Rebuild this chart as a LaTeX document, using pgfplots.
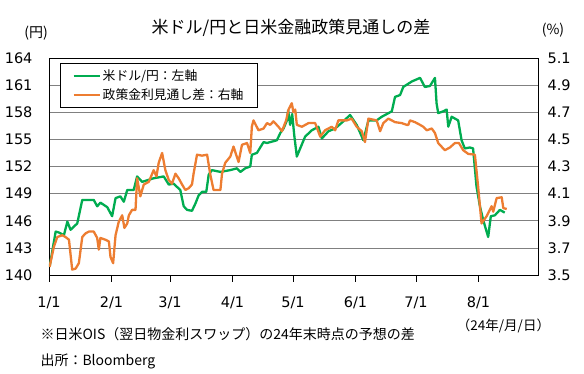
\documentclass[border=0pt]{standalone}
\usepackage{fontspec}
\usepackage{pgfplots}
\pgfplotsset{compat=1.18}
\setmainfont{DejaVu Sans}
\newfontfamily\jp{Noto Sans CJK JP}
\definecolor{ggreen}{RGB}{0,172,80}
\definecolor{gorange}{RGB}{237,125,49}
\begin{document}
\begin{tikzpicture}
\path (0pt,0pt) rectangle (584pt,374pt);
\begin{axis}[
  at={(49pt,99pt)}, anchor=south west,
  width=489pt, height=217pt, scale only axis,
  xmin=0, xmax=242.5, ymin=140, ymax=164,
  ytick={140,143,...,164},
  ymajorgrids, grid style={gray, line width=0.7pt},
  xtick={0,31,60,91,121,152,182,213},
  xticklabels={1/1,2/1,3/1,4/1,5/1,6/1,7/1,8/1},
  xtick pos=lower, ytick pos=left,
  tick align=outside,
  xtick style={black, line width=0.7pt},
  major tick length=7pt,
  ytick style={draw=none},
  axis line style={black, line width=0.8pt},
  /pgf/number format/assume math mode=true,
  tick label style={font=\fontsize{14.5}{16}\selectfont},
  yticklabel style={xshift=-6pt},
  xticklabel style={yshift=-11pt},
]
\addplot[ggreen, line width=2.3pt, line join=round] coordinates {
(0.3,140.9) (3.3,144.8) (4.9,144.7) (7.4,144.4) (9.1,145.9) (10.7,145.0) (14.0,145.7) (16.5,148.3)
(22.2,148.3) (23.9,147.6) (25.5,148.0) (28.9,147.5) (31.3,146.5) (33.0,148.5) (35.4,148.7) (37.1,148.1)
(38.8,149.4) (42.0,149.4) (43.7,150.9) (46.2,150.3) (51.9,150.7) (56.9,150.9) (59.4,150.0) (61.8,150.1)
(65.1,149.4) (66.8,147.6) (68.5,147.2) (70.9,147.1) (72.6,147.9) (74.2,148.8) (75.9,149.2) (78.0,149.2)
(79.2,151.1) (80.8,151.6) (85.0,151.4) (89.9,151.6) (93.2,151.8) (94.9,151.4) (97.3,151.8) (99.8,152.0)
(100.6,153.3) (103.1,153.5) (106.4,154.7) (108.1,154.6) (113.0,154.9) (114.7,155.7) (116.3,156.2) (118.0,157.1)
(118.6,158.2) (119.6,156.6) (120.6,157.8) (121.6,155.5) (122.9,153.1) (127.0,155.3) (130.3,156.0) (133.6,156.4)
(135.3,155.1) (138.6,155.9) (141.9,156.2) (146.0,157.0) (149.3,157.7) (152.6,156.6) (155.9,154.9) (158.4,157.1)
(162.5,157.1) (165.0,157.5) (170.0,158.1) (171.6,159.7) (174.1,159.9) (175.7,160.8) (179.9,161.4) (184.0,161.8)
(186.4,160.8) (188.9,160.9) (191.4,161.8) (192.2,159.0) (193.0,157.9) (195.5,158.1) (197.2,158.3) (198.0,156.4)
(199.7,157.5) (202.9,157.1) (204.6,154.9) (206.2,154.0) (208.7,154.1) (210.3,154.0) (212.0,149.8) (213.7,147.6)
(215.3,146.1) (217.8,144.2) (219.1,146.5) (221.1,146.6) (223.6,147.2) (225.2,147.0) (226.0,146.9)
};
\end{axis}
\begin{axis}[
  at={(49pt,99pt)}, anchor=south west,
  width=489pt, height=217pt, scale only axis,
  xmin=0, xmax=242.5, ymin=3.5, ymax=5.1,
  ytick={3.5,3.7,...,5.15},
  axis y line*=right, axis x line=none,
  ytick style={draw=none},
  axis line style={black, line width=0.8pt},
  /pgf/number format/assume math mode=true,
  /pgf/number format/.cd, fixed, precision=1, fixed zerofill, /pgfplots/.cd,
  tick label style={font=\fontsize{14.5}{16}\selectfont},
  yticklabel style={xshift=6pt},
  legend style={at={(0.0225,0.9756)}, anchor=north west, draw=black, fill=white,
    line width=0.8pt, font=\jp\fontsize{12.8}{15}\selectfont, inner xsep=12pt, inner ysep=4pt,
    row sep=3pt},
  legend cell align=left,
  legend image code/.code={\draw[#1] (0pt,0pt) -- (26pt,0pt);},
]
\addlegendimage{ggreen, line width=2.3pt}
\addlegendentry{米ドル/円：左軸}
\addplot[gorange, line width=2.3pt, line join=round] coordinates {
(0.3,3.56) (2.4,3.707) (4.1,3.78) (6.6,3.793) (8.2,3.78) (9.9,3.76) (11.5,3.54) (13.2,3.547)
(14.8,3.587) (16.5,3.78) (18.1,3.807) (19.8,3.82) (22.2,3.82) (23.9,3.773) (24.7,3.687) (25.5,3.773)
(28.0,3.76) (29.7,3.747) (30.5,3.633) (31.8,3.587) (33.0,3.793) (34.6,3.893) (36.3,3.94) (37.4,3.847)
(38.8,3.88) (39.6,3.94) (41.2,3.98) (42.9,3.98) (43.7,4.213) (45.3,4.08) (47.0,4.167) (49.5,4.187)
(51.9,4.273) (53.3,4.227) (54.4,4.327) (56.1,4.4) (57.7,4.273) (59.4,4.2) (61.0,4.173) (62.7,4.247)
(64.3,4.213) (66.0,4.167) (67.6,4.127) (69.3,4.14) (70.9,4.167) (71.7,4.247) (73.4,4.387) (75.9,4.38)
(78.4,4.387) (80.0,4.24) (81.6,4.127) (85.0,4.127) (85.8,4.247) (87.4,4.327) (89.9,4.373) (91.5,4.447)
(94.0,4.333) (95.7,4.46) (98.2,4.473) (99.8,4.4) (100.6,4.593) (101.4,4.64) (103.9,4.567) (106.4,4.58)
(108.1,4.62) (109.7,4.607) (111.3,4.633) (113.8,4.593) (115.5,4.56) (117.6,4.64) (118.8,4.72) (120.4,4.767)
(121.2,4.7) (122.1,4.72) (122.9,4.607) (125.4,4.593) (128.7,4.62) (132.0,4.62) (134.5,4.52) (136.9,4.567)
(140.2,4.593) (141.9,4.567) (143.5,4.64) (147.7,4.64) (150.1,4.653) (152.6,4.593) (155.1,4.56) (156.7,4.48)
(158.4,4.653) (162.5,4.64) (164.2,4.56) (165.8,4.62) (168.3,4.653) (171.6,4.627) (174.9,4.62) (177.4,4.607)
(178.2,4.607) (179.0,4.64) (181.5,4.627) (184.0,4.607) (185.6,4.593) (187.3,4.567) (189.8,4.58) (191.4,4.547)
(193.0,4.473) (196.3,4.42) (198.8,4.44) (201.3,4.473) (203.3,4.473) (205.4,4.42) (207.9,4.393) (211.2,4.387)
(212.8,4.153) (214.5,3.88) (217.0,3.933) (219.5,4.007) (220.3,3.967) (222.0,4.067) (224.5,4.073) (225.3,3.993)
(227.0,3.987)
};
\addlegendentry{政策金利見通し差：右軸}
\end{axis}
\node[font=\jp\fontsize{17}{20}\selectfont] at (291pt,346.5pt) {米ドル/円と日米金融政策見通しの差};
\node[font=\jp\fontsize{14}{16}\selectfont] at (36pt,341pt) {(円)};
\node[font=\jp\fontsize{14}{16}\selectfont] at (553pt,344pt) {(\%)};
\node[font=\jp\fontsize{13.5}{16}\selectfont] at (503.5pt,48pt) {（24年/月/日）};
\node[font=\jp\fontsize{14}{16}\selectfont, anchor=west] at (37pt,40.2pt) {※日米OIS（翌日物金利スワップ）の24年末時点の予想の差};
\node[font=\jp\fontsize{14}{16}\selectfont, anchor=west] at (37pt,12.3pt) {出所：Bloomberg};
\end{tikzpicture}
\end{document}
